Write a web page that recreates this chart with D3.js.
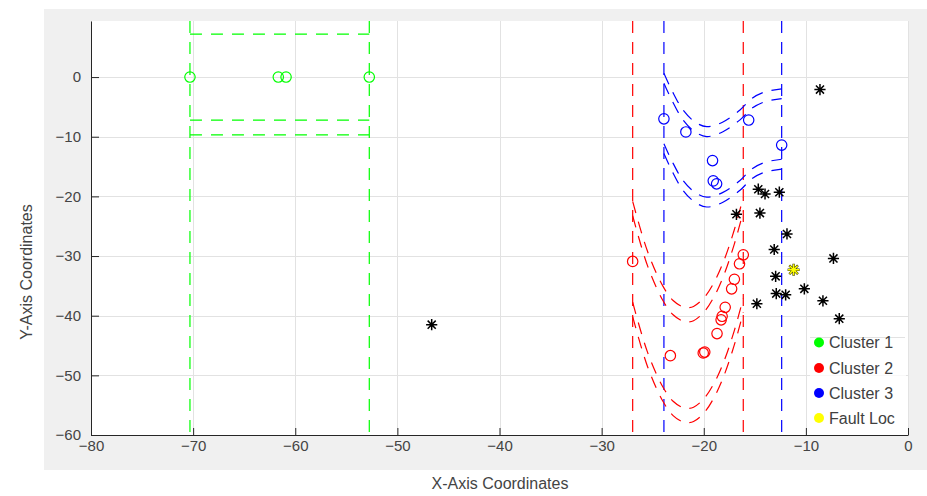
<!DOCTYPE html>
<html>
<head>
<meta charset="utf-8">
<script src="https://cdn.jsdelivr.net/npm/d3@7"></script>
<style>
  html, body { margin: 0; padding: 0; background: #ffffff; }
  svg { display: block; font-family: "Liberation Sans", Arial, sans-serif; }
</style>
</head>
<body>
<script>
// Axis ticks
const xTicks = [-80, -70, -60, -50, -40, -30, -20, -10, 0];
const yTicks = [-60, -50, -40, -30, -20, -10, 0];

// Cluster members (circles)
const cluster1X = [-70.31, -61.66, -60.9, -52.75];
const cluster1Y = [0, 0, 0, 0];
const cluster2X = [-26.96, -23.27, -20.05, -19.9, -18.7, -18.3, -18.2, -17.9, -17.27, -17.0, -16.5, -16.13];
const cluster2Y = [-30.9, -46.7, -46.25, -46.1, -43.0, -40.7, -40.1, -38.6, -35.5, -33.9, -31.3, -29.8];
const cluster3X = [-23.9, -21.75, -15.6, -12.37, -19.14, -19.07, -18.74];
const cluster3Y = [-7.0, -9.2, -7.2, -11.4, -14.0, -17.4, -17.9];

// Unclustered nodes (asterisks)
const nodeX = [-8.62, -14.66, -14.0, -12.6, -16.8, -14.5, -11.85, -13.1, -7.3, -12.96, -10.15, -12.9, -11.98, -8.33, -14.8, -6.73, -46.64];
const nodeY = [-2.1, -18.8, -19.6, -19.3, -23.0, -22.8, -26.3, -28.9, -30.4, -33.4, -35.5, -36.3, -36.5, -37.5, -38.0, -40.5, -41.5];

// Fault location
const faultX = [-11.2];
const faultY = [-32.3];

// Cluster centre curves (traced), band offsets around them
const curve1X = [-70.31, -52.75];
const curve1Y = [0, 0];
const curve2X = [-26.96, -25.5, -24.0, -23.0, -22.0, -21.5, -21.0, -20.0, -19.0, -18.0, -17.0, -16.13];
const curve2Y = [-30.5, -38.9, -44.7, -47.1, -48.2, -48.3, -48.1, -46.7, -44.1, -40.3, -35.2, -29.8];
const curve3X = [-23.9, -23.14, -22.03, -20.86, -19.71, -18.12, -16.45, -15.28, -14.0, -12.37];
const curve3Y = [-6.1, -8.9, -12.25, -14.25, -15.05, -14.25, -12.25, -10.3, -9.2, -8.7];
const bandInner = [7.2, 7.25, 5.08];
const bandOuter = [9.7, 9.65, 6.73];

// Cluster bounds (vertical lines)
const boundMin = [-70.31, -26.96, -23.9];
const boundMax = [-52.75, -16.13, -12.37];

const legendLabels = ["Cluster 1", "Cluster 2", "Cluster 3", "Fault Loc"];
const colors = ["#00ff00", "#ff0000", "#0000ff", "#ffff00"];

const W = 927, H = 496;
const plot = { left: 91, right: 908, top: 21, bottom: 435 };

const x = d3.scaleLinear().domain([-80, 0]).range([plot.left, plot.right]);
const y = d3.scaleLinear().domain([-60, 9.4]).range([plot.bottom, plot.top]);

const svg = d3.select("body").append("svg").attr("width", W).attr("height", H);

// Figure and axes backgrounds
svg.append("rect").attr("x", 44).attr("y", 9).attr("width", W - 44).attr("height", 461).attr("fill", "#f0f0f0");
svg.append("rect").attr("x", plot.left).attr("y", plot.top)
  .attr("width", plot.right - plot.left).attr("height", plot.bottom - plot.top).attr("fill", "#ffffff");

svg.append("clipPath").attr("id", "plotClip").append("rect")
  .attr("x", plot.left).attr("y", plot.top)
  .attr("width", plot.right - plot.left).attr("height", plot.bottom - plot.top);

// Grid
const grid = svg.append("g").attr("stroke", "#e2e2e2").attr("stroke-width", 1);
grid.selectAll("line.gx").data(xTicks).join("line").attr("class", "gx")
  .attr("x1", d => Math.round(x(d)) + 0.5).attr("x2", d => Math.round(x(d)) + 0.5)
  .attr("y1", plot.top).attr("y2", plot.bottom);
grid.selectAll("line.gy").data(yTicks).join("line").attr("class", "gy")
  .attr("y1", d => Math.round(y(d)) + 0.5).attr("y2", d => Math.round(y(d)) + 0.5)
  .attr("x1", plot.left).attr("x2", plot.right);

const g = svg.append("g").attr("clip-path", "url(#plotClip)");
const dash = "12,9";

// Vertical cluster bounds
[0, 1, 2].forEach(i => {
  [boundMin[i], boundMax[i]].forEach(v => {
    g.append("line")
      .attr("x1", x(v)).attr("x2", x(v))
      .attr("y1", plot.top).attr("y2", plot.bottom)
      .attr("stroke", colors[i]).attr("stroke-width", 1.2)
      .attr("stroke-dasharray", dash);
  });
});

// Band curves around each cluster centre
const curves = [[curve1X, curve1Y], [curve2X, curve2Y], [curve3X, curve3Y]];
const line = d3.line().x(d => x(d[0])).y(d => y(d[1])).curve(d3.curveCatmullRom.alpha(0.5));
curves.forEach(([cx, cy], i) => {
  [bandInner[i], bandOuter[i]].forEach(off => {
    [1, -1].forEach(sign => {
      const pts = cx.map((v, k) => [v, cy[k] + sign * off]);
      g.append("path").attr("d", line(pts))
        .attr("fill", "none").attr("stroke", colors[i]).attr("stroke-width", 1.2)
        .attr("stroke-dasharray", dash);
    });
  });
});

// Cluster circles
const clusters = [[cluster1X, cluster1Y], [cluster2X, cluster2Y], [cluster3X, cluster3Y]];
clusters.forEach(([cx, cy], i) => {
  g.selectAll(null).data(cx.map((v, k) => [v, cy[k]])).join("circle")
    .attr("cx", d => x(d[0])).attr("cy", d => y(d[1])).attr("r", 5.2)
    .attr("fill", "none").attr("stroke", colors[i]).attr("stroke-width", 1.2);
});

// Asterisk marker
function asterisk(s) {
  const k = s * 0.72;
  return `M0,${-s}L0,${s}M${-s},0L${s},0M${-k},${-k}L${k},${k}M${-k},${k}L${k},${-k}`;
}
g.selectAll(null).data(nodeX.map((v, k) => [v, nodeY[k]])).join("path")
  .attr("transform", d => `translate(${x(d[0])},${y(d[1])})`)
  .attr("d", asterisk(5.6)).attr("stroke", "#000").attr("stroke-width", 1.5).attr("fill", "none");

const faultPts = faultX.map((v, k) => [v, faultY[k]]);
g.selectAll(null).data(faultPts).join("path")
  .attr("transform", d => `translate(${x(d[0])},${y(d[1])})`)
  .attr("d", asterisk(6)).attr("stroke", "#3a3a00").attr("stroke-width", 2.4).attr("fill", "none");
g.selectAll(null).data(faultPts).join("path")
  .attr("transform", d => `translate(${x(d[0])},${y(d[1])})`)
  .attr("d", asterisk(5.6)).attr("stroke", "#ffff00").attr("stroke-width", 1.4).attr("fill", "none");

// Axes
const axisColor = "#262626";
const xAxis = svg.append("g").attr("transform", `translate(0,${plot.bottom})`)
  .call(d3.axisBottom(x).tickValues(xTicks).tickSizeInner(-7).tickSizeOuter(0).tickPadding(5));
const yAxis = svg.append("g").attr("transform", `translate(${plot.left},0)`)
  .call(d3.axisLeft(y).tickValues(yTicks).tickSizeInner(-8).tickSizeOuter(0).tickPadding(10));
[xAxis, yAxis].forEach(a => {
  a.select(".domain").attr("stroke", axisColor);
  a.selectAll(".tick line").attr("stroke", axisColor);
  a.selectAll(".tick text").attr("fill", "#444444")
    .style("font-family", '"Liberation Sans", Arial, sans-serif').style("font-size", "15px");
});

// Axis titles
svg.append("text").attr("x", 500).attr("y", 489).attr("text-anchor", "middle")
  .attr("fill", "#444444").style("font-size", "16px").text("X-Axis Coordinates");
svg.append("text").attr("transform", "translate(32,272) rotate(-90)").attr("text-anchor", "middle")
  .attr("fill", "#444444").style("font-size", "16px").text("Y-Axis Coordinates");

// Legend
const lg = svg.append("g");
lg.append("rect").attr("x", 810).attr("y", 333).attr("width", 96).attr("height", 100)
  .attr("fill", "#ffffff").attr("fill-opacity", 0.75);
lg.append("line").attr("x1", 810).attr("x2", 905).attr("y1", 337.5).attr("y2", 337.5)
  .attr("stroke", "#e2e2e2");
const rowY = [342.5, 368, 393, 418];
legendLabels.forEach((t, i) => {
  lg.append("circle").attr("cx", 819).attr("cy", rowY[i]).attr("r", 5).attr("fill", colors[i]);
  lg.append("text").attr("x", 829).attr("y", rowY[i]).attr("dy", "0.35em")
    .attr("fill", "#404040").style("font-size", "16px").text(t);
});
</script>
</body>
</html>
